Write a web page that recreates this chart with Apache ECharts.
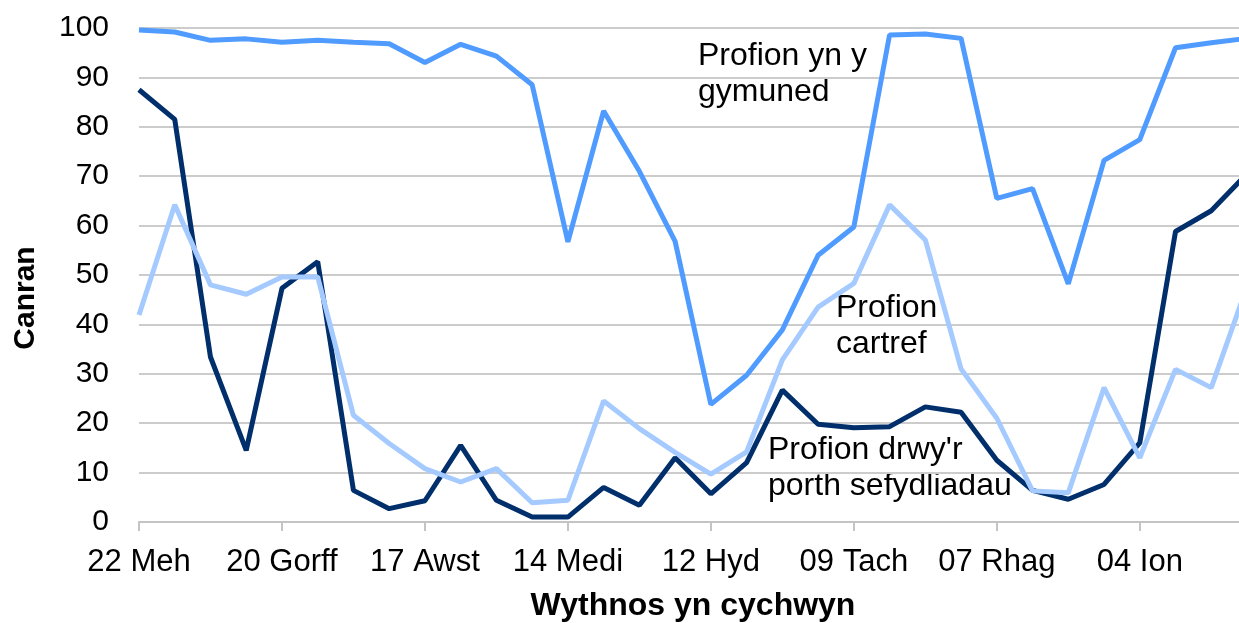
<!DOCTYPE html>
<html>
<head>
<meta charset="utf-8">
<script src="https://cdn.jsdelivr.net/npm/echarts@6/dist/echarts.min.js"></script>
<style>
html,body{margin:0;padding:0;background:#fff;overflow:hidden;width:1239px;height:623px;}
#chart{width:1260px;height:623px;}
</style>
</head>
<body>
<div id="chart"></div>
<script>
const weeks = ['22 Meh','29 Meh','06 Gorff','13 Gorff','20 Gorff','27 Gorff','03 Awst','10 Awst','17 Awst','24 Awst','31 Awst','07 Medi','14 Medi','21 Medi','28 Medi','05 Hyd','12 Hyd','19 Hyd','26 Hyd','02 Tach','09 Tach','16 Tach','23 Tach','30 Tach','07 Rhag','14 Rhag','21 Rhag','28 Rhag','04 Ion','11 Ion','18 Ion','25 Ion'];
const communityTests = [99.6,99.2,97.5,97.8,97.1,97.5,97.1,96.8,93.0,96.7,94.3,88.5,56.7,83.2,71.0,56.8,23.8,29.7,38.9,54.0,59.7,98.6,98.8,97.9,65.5,67.5,48.2,73.2,77.4,96.0,97.0,97.9];
const homeTests = [41.9,64.2,48.0,46.1,49.6,49.6,21.6,15.9,10.8,8.1,10.8,3.9,4.4,24.5,18.9,14.1,9.7,14.2,32.8,43.5,48.3,64.2,57.1,31.0,21.0,6.3,5.9,27.2,13.0,30.9,27.2,47.7];
const portalTests = [87.5,81.5,33.4,14.5,47.3,52.7,6.4,2.7,4.3,15.5,4.4,1.0,1.0,7.0,3.4,13.0,5.7,12.0,26.7,19.8,19.1,19.3,23.3,22.2,12.5,6.4,4.6,7.6,16.0,58.8,63.0,70.5];
const yTicks = {min:0, max:100, interval:10};

const FONT = "'Liberation Sans', Arial, sans-serif";
const chart = echarts.init(document.getElementById('chart'), null, {renderer:'canvas'});
chart.setOption({
  animation:false,
  backgroundColor:'#ffffff',
  grid:{left:139, top:28, width:1108, height:494},
  xAxis:{
    type:'category', data:weeks, boundaryGap:false,
    axisLine:{show:true, lineStyle:{color:'#c4c4c4', width:2}},
    axisTick:{show:true, interval:3, length:9, lineStyle:{color:'#c4c4c4', width:2}},
    axisLabel:{interval:3, color:'#000', fontSize:31, fontFamily:FONT, margin:25},
    splitLine:{show:false}
  },
  yAxis:{
    type:'value', min:yTicks.min, max:yTicks.max, interval:yTicks.interval,
    axisLine:{show:false}, axisTick:{show:false},
    axisLabel:{color:'#000', fontSize:30, fontFamily:FONT, margin:30},
    splitLine:{lineStyle:{color:'#cccccc', width:2}}
  },
  series:[
    {name:"Profion drwy'r porth sefydliadau", type:'line', data:portalTests, symbol:'none',
      lineStyle:{color:'#002f6c', width:5}, z:3},
    {name:'Profion cartref', type:'line', data:homeTests, symbol:'none',
      lineStyle:{color:'#a5caff', width:5}, z:4},
    {name:'Profion yn y gymuned', type:'line', data:communityTests, symbol:'none',
      lineStyle:{color:'#4f9bff', width:5}, z:5}
  ],
  graphic:[
    {type:'text', left:698, top:38, style:{text:'Profion yn y\ngymuned', font:'32px '+FONT, fill:'#000', lineHeight:36}},
    {type:'text', left:836, top:290, style:{text:'Profion\ncartref', font:'32px '+FONT, fill:'#000', lineHeight:36}},
    {type:'text', left:768, top:432, style:{text:"Profion drwy'r\nporth sefydliadau", font:'32px '+FONT, fill:'#000', lineHeight:36}},
    {type:'text', x:693, y:606, style:{text:'Wythnos yn cychwyn', font:'bold 32px '+FONT, fill:'#000', align:'center', verticalAlign:'middle'}},
    {type:'text', x:26, y:298, rotation:Math.PI/2, style:{text:'Canran', font:'bold 30px '+FONT, fill:'#000', align:'center', verticalAlign:'middle'}}
  ]
});
</script>
</body>
</html>
